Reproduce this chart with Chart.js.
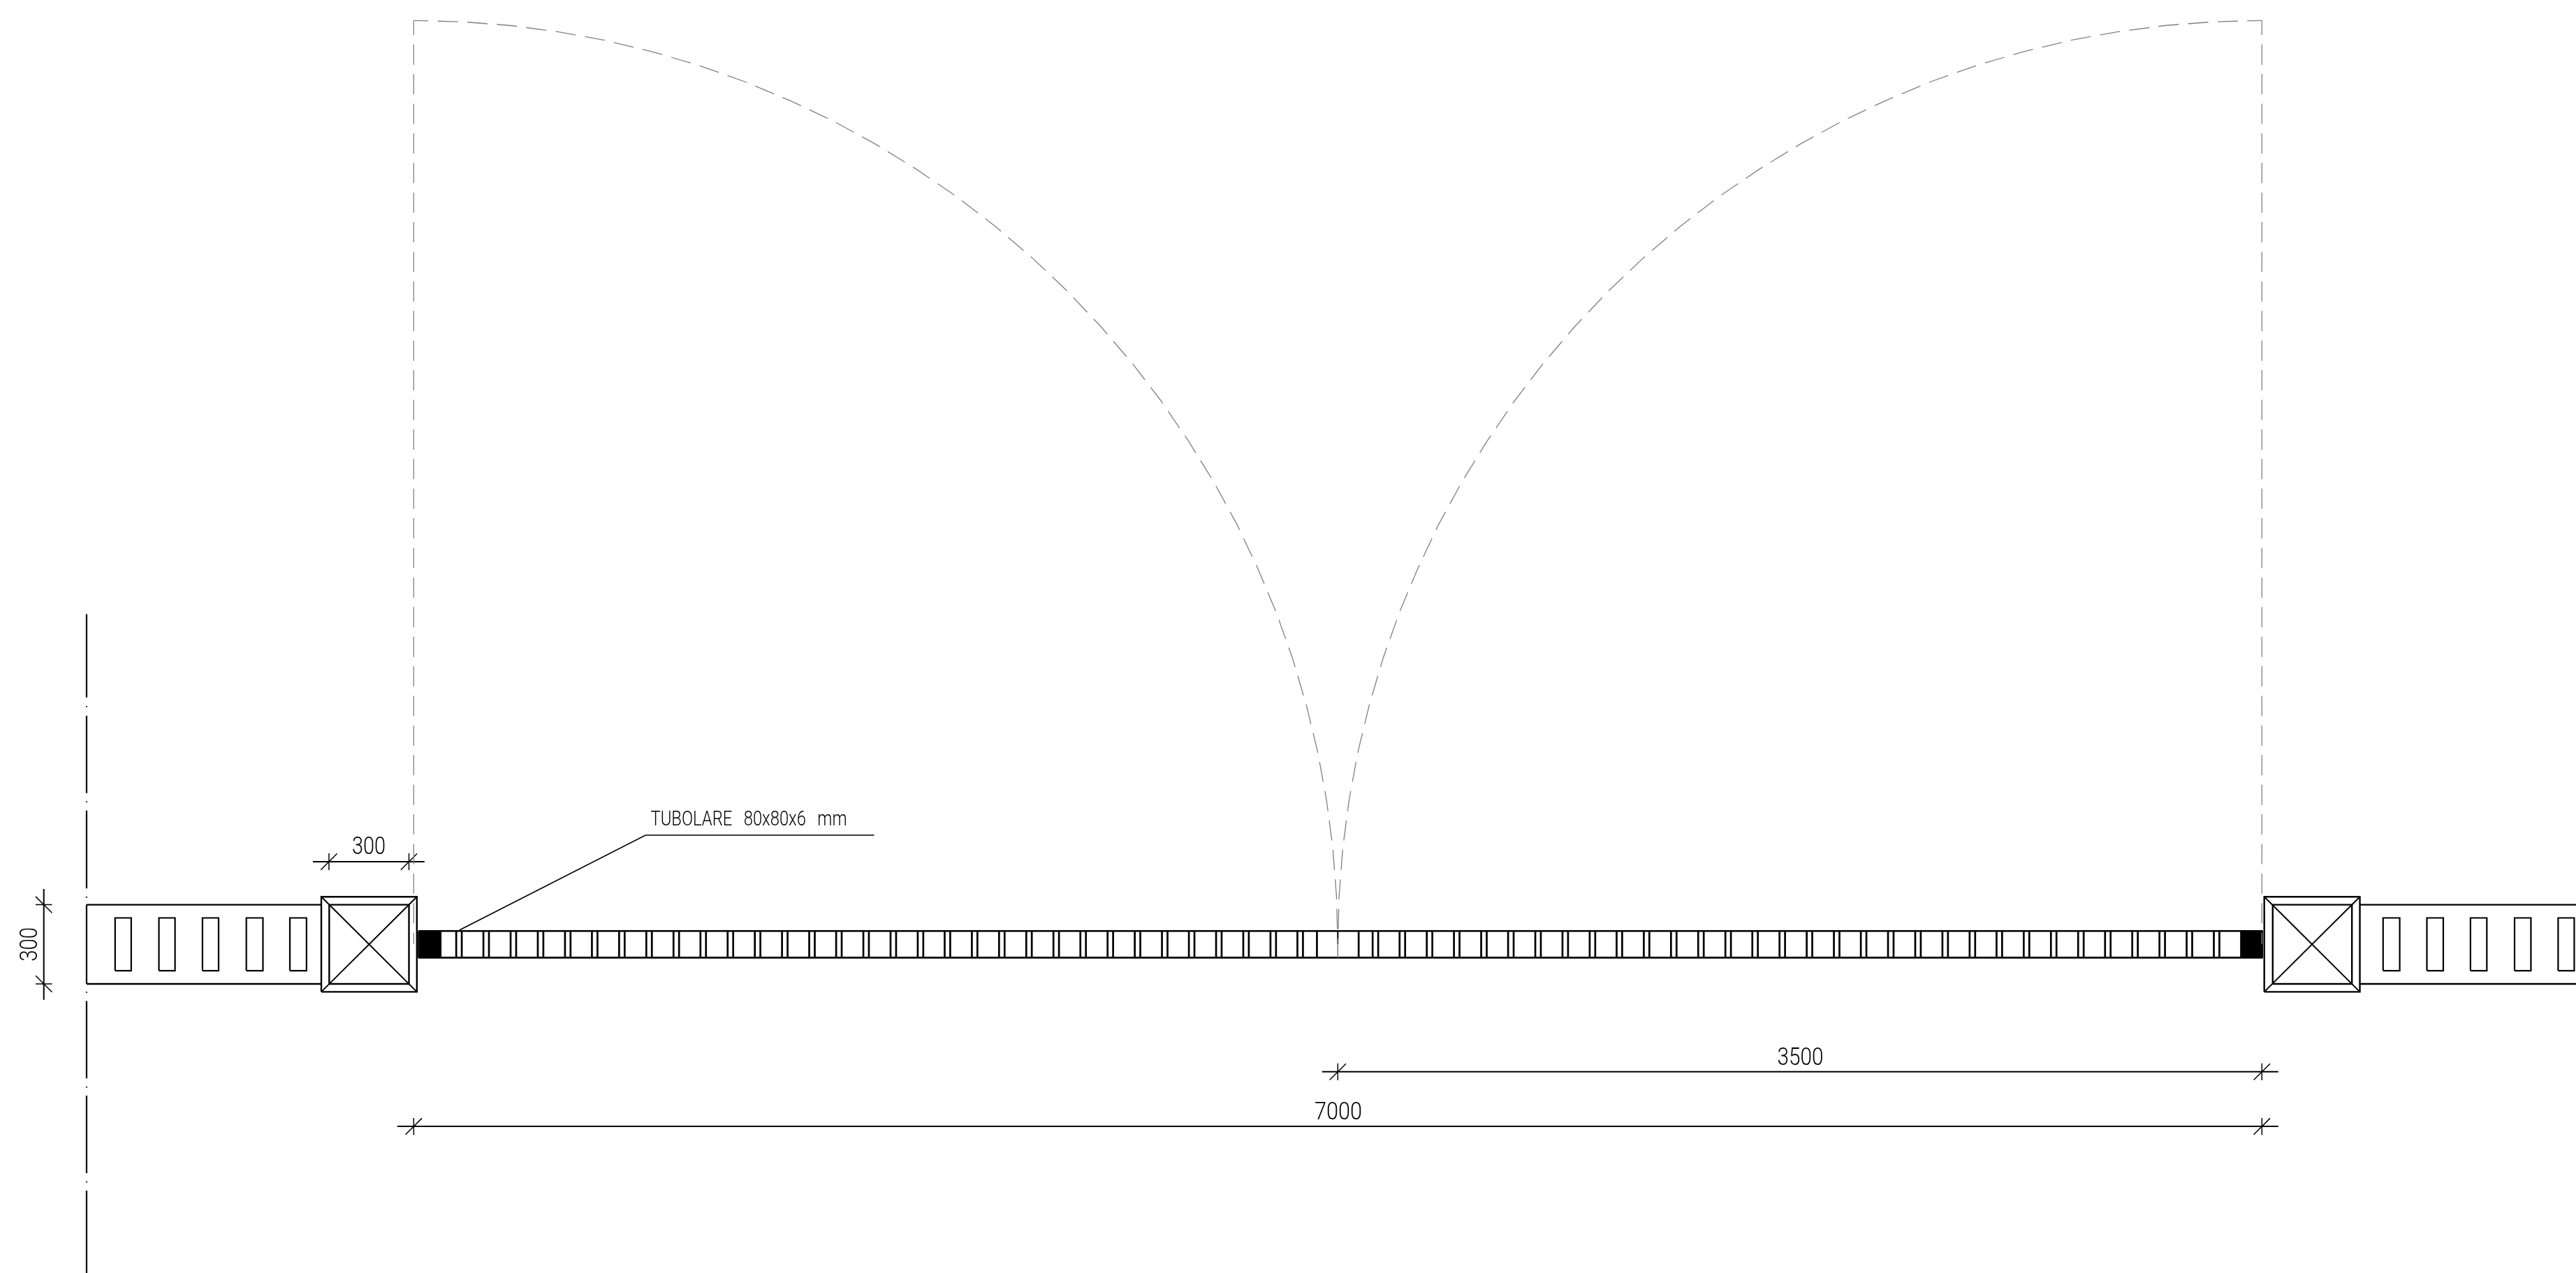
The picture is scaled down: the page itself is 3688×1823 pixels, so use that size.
<!DOCTYPE html>
<html>
<head>
<meta charset="utf-8">
<title>Cancello a due ante</title>
<script src="https://cdn.jsdelivr.net/npm/chart.js@4/dist/chart.umd.min.js"></script>
<style>
  html, body { margin: 0; padding: 0; background: #fff; overflow: hidden; }
  canvas { display: block; }
</style>
</head>
<body>
<canvas id="plan" width="3688" height="1823"></canvas>
<script>
// all values are millimetres on the drawing, origin = left hinge
const leafArcX = [0,183,366,548,728,906,1082,1254,1424,1589,1750,1906,2057,2203,2342,2475,2601,2720,2832,2935,3031,3119,3197,3268,3329,3381,3424,3457,3481,3495,3500];
const leafArcY = [3500,3495,3481,3457,3424,3381,3329,3268,3197,3119,3031,2935,2832,2720,2601,2475,2342,2203,2057,1906,1750,1589,1424,1254,1082,906,728,548,366,183,0];
const rightArcX = [7000,6817,6634,6452,6272,6094,5918,5746,5576,5411,5250,5094,4943,4797,4658,4525,4399,4280,4168,4065,3969,3881,3803,3732,3671,3619,3576,3543,3519,3505,3500];

const hingeX = [0, 7000];
const hingeTop = 3500;

// double pickets of the gate, left edge of each pair
const picketsLeft = [161,264,367,470,573,675,778,881,984,1086,1189,1292,1395,1498,1600,1703,1806,1909,2011,2114,2217,2320,2423,2525,2628,2731,2834,2936,3039,3142,3245,3347];
const picketsRight = [3632,3734,3837,3940,4043,4145,4248,4351,4454,4556,4659,4762,4865,4968,5070,5173,5276,5379,5481,5584,5687,5790,5893,5995,6098,6201,6304,6406,6509,6612,6715,6818];
const picketWidth = 21;
const singlePickets = [3421, 3579];
const railY = [50.5, -50.5];
const railEnds = [18, 7003];

// [x1, y1, x2, y2]
const blackBlocks = [[18,-51,104,51], [6920,-51,7003,51]];
const postRects = [
  [-350,-180,12,180], [-320,-150,-18,150],
  [7009,-180,7371,180], [7041,-150,7341,150]
];
const postDiagonals = [
  [-350,180,12,-180], [-350,-180,12,180],
  [7009,180,7371,-180], [7009,-180,7371,180]
];
const wallLines = [
  [-1239,150,-350,150], [-1239,-150,-350,-150],
  [7371,150,8190,150], [7371,-150,8190,-150]
];
const slotsX = [
  [-1131,-1070], [-965,-904], [-800,-739], [-634,-571], [-469,-406],
  [7459,7522], [7625,7687], [7790,7852], [7957,8019], [8122,8183]
];
const slotY = [-100, 100];

// centre line, dash by dash
const centreLineX = -1239;
const centreLineDashes = [
  [1251,935],[903,899],[866,573],[542,538],[507,212],[181,177],
  [150,-150],[-180,-184],[-215,-508],[-539,-543],[-573,-867],[-898,-902],[-933,-1245]
];

const dimLines = [
  [-62,-690,7062,-690], [3441,-483,7062,-483],
  [-382,313,41,313], [-1401,210,-1401,-210]
];
const dimTicksX = [[0,-690],[7000,-690],[3500,-483],[7000,-483],[-321,313],[-18,313]];
const dimTicksY = [[-1401,150],[-1401,-150]];
const leaderLine = [[173,54],[878,413.5],[1744,413.5]];

const labelTexts = ["TUBOLARE  80x80x6  mm", "300", "300", "3500", "7000"];
const labelX = [1269, -170, -1460, 5252, 3502];
const labelY = [451, 342, 0, -457, -664];

const PX_PER_MM = 0.378;
const canvasW = 3688, canvasH = 1823;
const originPx = [592.3, 1352.3];

function segs(list) {
  const pts = [];
  for (const s of list) {
    pts.push({ x: s[0], y: s[1] }, { x: s[2], y: s[3] }, { x: null, y: null });
  }
  return pts;
}
function rects(list) {
  const pts = [];
  for (const r of list) {
    pts.push({x:r[0],y:r[1]},{x:r[2],y:r[1]},{x:r[2],y:r[3]},{x:r[0],y:r[3]},{x:r[0],y:r[1]},{x:null,y:null});
  }
  return pts;
}

const ink = "#000";
const grey = "#808080";

function lineSet(label, data, color, width, extra) {
  return Object.assign({
    label, data, showLine: true, borderColor: color, borderWidth: width,
    pointRadius: 0, fill: false, tension: 0, borderCapStyle: "butt", borderJoinStyle: "miter"
  }, extra || {});
}

const picketSegs = [];
for (const x of picketsLeft.concat(picketsRight)) {
  picketSegs.push([x, railY[0], x, railY[1]], [x + picketWidth, railY[0], x + picketWidth, railY[1]]);
}
for (const x of singlePickets) picketSegs.push([x, railY[0], x, railY[1]]);

const tickSegs = [];
for (const t of dimTicksX) {
  tickSegs.push([t[0], t[1] + 32, t[0], t[1] - 32], [t[0] - 31, t[1] - 31, t[0] + 31, t[1] + 31]);
}
for (const t of dimTicksY) {
  tickSegs.push([t[0] - 31, t[1], t[0] + 31, t[1]], [t[0] - 31, t[1] + 31, t[0] + 31, t[1] - 31]);
}

const dashPattern = [29 , 13.4];

// first dataset ends up on top
const datasets = [
  lineSet("anta sx arco", leafArcX.map((x, i) => ({ x, y: leafArcY[i] })), grey, 1.3, { borderDash: dashPattern, borderDashOffset: 8 }),
  lineSet("anta dx arco", rightArcX.map((x, i) => ({ x, y: leafArcY[i] })), grey, 1.3, { borderDash: dashPattern, borderDashOffset: 8 }),
  lineSet("anta sx", [{ x: hingeX[0], y: 0 }, { x: hingeX[0], y: hingeTop }], grey, 1.3, { borderDash: dashPattern, borderDashOffset: 12.4 }),
  lineSet("anta dx", [{ x: hingeX[1], y: 0 }, { x: hingeX[1], y: hingeTop }], grey, 1.3, { borderDash: dashPattern, borderDashOffset: 12.4 }),
  lineSet("mezzeria", segs([[3500, 0, 3500, railY[1]]]), grey, 1.5),
  lineSet("mezzeria nera", segs([[3500, railY[0], 3500, 0]]), ink, 2),
  lineSet("binario", segs([[railEnds[0], railY[0], railEnds[1], railY[0]], [railEnds[0], railY[1], railEnds[1], railY[1]]]), ink, 2.6),
  lineSet("montanti", segs(picketSegs), ink, 2.7),
  lineSet("pilastri", rects(postRects), ink, 2.4),
  lineSet("diagonali", segs(postDiagonals), ink, 2),
  lineSet("muro", segs(wallLines), ink, 2.4),
  lineSet("asole", rects(slotsX.map(s => [s[0], slotY[0], s[1], slotY[1]])), ink, 2.2),
  lineSet("asse", segs(centreLineDashes.map(d => [centreLineX, d[0], centreLineX, d[1]])), ink, 2.2),
  lineSet("quote", segs(dimLines), ink, 2),
  lineSet("tacche", segs(tickSegs), ink, 1.5),
  lineSet("richiamo", leaderLine.map(p => ({ x: p[0], y: p[1] })), ink, 1.7),
  lineSet("blocco sx", rects([blackBlocks[0]]).slice(0, 5), ink, 1, { fill: "shape", backgroundColor: ink }),
  lineSet("blocco dx", rects([blackBlocks[1]]).slice(0, 5), ink, 1, { fill: "shape", backgroundColor: ink })
];

// drawing labels, placed through the chart scales
const labelFonts = [29.5, 35, 35, 35, 35];
const labelFits = [281, 48, 49, 66, 68];
const labelWordGaps = ["3px", "0px", "0px", "0px", "0px"];
const textPlugin = {
  id: "cadLabels",
  afterDatasetsDraw(chart) {
    const { ctx, scales } = chart;
    ctx.save();
    ctx.fillStyle = "#000";
    ctx.textAlign = "center";
    ctx.textBaseline = "alphabetic";
    labelTexts.forEach((t, i) => {
      const px = scales.x.getPixelForValue(labelX[i]);
      const py = scales.y.getPixelForValue(labelY[i]);
      ctx.font = `300 ${labelFonts[i]}px Roboto, "Liberation Sans", sans-serif`;
      ctx.wordSpacing = labelWordGaps[i];
      ctx.save();
      ctx.translate(px, py);
      if (i === 2) ctx.rotate(-Math.PI / 2);
      const yOff = i === 2 ? 12.5 : 0;
      ctx.fillText(t, 0, yOff, labelFits[i]);
      ctx.restore();
    });
    ctx.restore();
  }
};

new Chart(document.getElementById("plan").getContext("2d"), {
  type: "scatter",
  data: { datasets },
  options: {
    responsive: false,
    animation: false,
    events: [],
    layout: { padding: 0 },
    plugins: { legend: { display: false }, title: { display: false }, tooltip: { enabled: false } },
    scales: {
      x: { type: "linear", display: false, min: -originPx[0] / PX_PER_MM, max: (canvasW - originPx[0]) / PX_PER_MM },
      y: { type: "linear", display: false, min: -(canvasH - originPx[1]) / PX_PER_MM, max: originPx[1] / PX_PER_MM }
    }
  },
  plugins: [textPlugin]
});
</script>
</body>
</html>
